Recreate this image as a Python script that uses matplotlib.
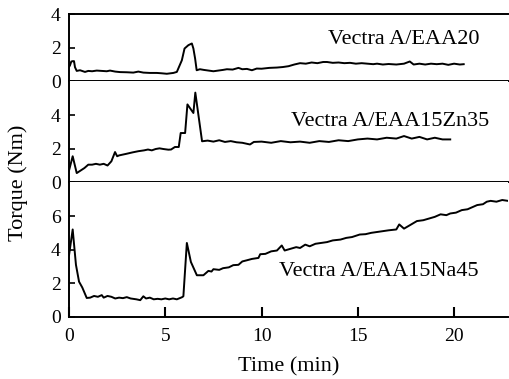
import numpy as np
import matplotlib
matplotlib.use("Agg")
import matplotlib.pyplot as plt

plt.rcParams['font.family'] = ['Liberation Serif', 'DejaVu Serif']

# torque curves (time in min, torque in Nm)
t_eaa20 = [0, 0.05, 0.12, 0.2, 0.26, 0.31, 0.4, 0.57, 0.83, 1.0, 1.2, 1.44, 1.7, 1.96, 2.13,
           2.4, 2.65, 3.0, 3.34, 3.6, 3.86, 4.2, 4.56, 4.8, 5.08, 5.42, 5.6, 5.86, 6.0, 6.2,
           6.38, 6.46, 6.55, 6.63, 6.8, 7.0, 7.5, 8.0, 8.2, 8.5, 8.8, 9.0, 9.24, 9.5, 9.75,
           10.0, 10.4, 10.8, 11.1, 11.4, 11.7, 12.0, 12.3, 12.6, 12.9, 13.2, 13.4, 13.7, 14.0,
           14.3, 14.6, 14.9, 15.2, 15.5, 15.8, 16.0, 16.3, 16.6, 17.0, 17.4, 17.7, 17.9, 18.2,
           18.5, 18.8, 19.1, 19.4, 19.7, 20.0, 20.3, 20.5]
v_eaa20 = [0.85, 0.95, 1.18, 1.2, 1.2, 0.84, 0.62, 0.66, 0.56, 0.62, 0.6, 0.64, 0.62, 0.6, 0.64,
           0.58, 0.55, 0.54, 0.52, 0.58, 0.52, 0.5, 0.5, 0.48, 0.45, 0.5, 0.56, 1.25, 1.95, 2.15,
           2.25, 1.95, 1.35, 0.66, 0.72, 0.68, 0.6, 0.68, 0.72, 0.7, 0.8, 0.72, 0.74, 0.66, 0.76,
           0.75, 0.8, 0.82, 0.85, 0.9, 1.0, 1.08, 1.05, 1.12, 1.08, 1.15, 1.15, 1.1, 1.12,
           1.08, 1.1, 1.05, 1.08, 1.05, 1.02, 1.05, 1.0, 1.03, 1.0, 1.05, 1.18, 1.0, 1.05,
           1.0, 1.05, 1.02, 1.05, 0.98, 1.05, 1.0, 1.02]

t_zn35 = [0, 0.19, 0.4, 0.6, 0.8, 1.0, 1.2, 1.4, 1.6, 1.8, 2.0, 2.2, 2.39, 2.5, 2.6, 2.8,
          3.0, 3.3, 3.6, 3.9, 4.1, 4.3, 4.5, 4.7, 4.9, 5.16, 5.3, 5.5, 5.7, 5.8, 6.03, 6.15,
          6.46, 6.56, 6.91, 7.2, 7.5, 7.8, 8.1, 8.4, 8.7, 9.0, 9.4, 9.6, 10.0, 10.5, 11.0,
          11.5, 12.0, 12.5, 13.0, 13.5, 14.0, 14.5, 15.0, 15.5, 16.0, 16.5, 17.0, 17.4, 17.8,
          18.2, 18.6, 19.0, 19.4, 19.8]
v_zn35 = [0.7, 1.55, 0.55, 0.7, 0.85, 1.05, 1.05, 1.1, 1.05, 1.1, 1.0, 1.25, 1.8, 1.55, 1.6, 1.65,
          1.7, 1.78, 1.85, 1.9, 1.95, 1.9, 1.98, 2.02, 1.98, 1.94, 1.95, 2.1, 2.1, 2.93, 2.93, 4.63,
          4.12, 5.33, 2.44, 2.48, 2.42, 2.5, 2.4, 2.45, 2.38, 2.35, 2.25, 2.4, 2.42, 2.35, 2.45,
          2.38, 2.42, 2.35, 2.45, 2.4, 2.5, 2.45, 2.55, 2.6, 2.55, 2.65, 2.6, 2.75, 2.6,
          2.7, 2.55, 2.65, 2.55, 2.55]

t_na45 = [0, 0.19, 0.36, 0.52, 0.69, 0.92, 1.1, 1.3, 1.5, 1.7, 1.8, 2.0, 2.2, 2.4, 2.6, 2.8,
          3.0, 3.2, 3.5, 3.7, 3.86, 4.0, 4.2, 4.4, 4.6, 4.8, 5.0, 5.2, 5.4, 5.6, 5.86, 5.94,
          6.12, 6.33, 6.64, 6.98, 7.1, 7.24, 7.4, 7.5, 7.8, 8.0, 8.3, 8.53, 8.8, 9.0, 9.24,
          9.5, 9.84, 9.93, 10.2, 10.5, 10.8, 11.05, 11.2, 11.5, 11.8, 12.0, 12.27, 12.5, 12.8,
          13.1, 13.4, 13.7, 14.1, 14.4, 14.7, 15.1, 15.4, 15.7, 16.0, 16.3, 16.6, 17.0, 17.15,
          17.4, 17.7, 18.07, 18.4, 18.7, 19.0, 19.3, 19.6, 19.8, 20.1, 20.4, 20.7, 21.0, 21.2,
          21.5, 21.7, 21.9, 22.2, 22.5, 22.8]
v_na45 = [3.67, 5.2, 3.1, 2.1, 1.75, 1.13, 1.15, 1.25, 1.2, 1.3, 1.15, 1.25, 1.2, 1.1, 1.15, 1.12,
          1.18, 1.1, 1.05, 1.0, 1.23, 1.1, 1.15, 1.05, 1.08, 1.05, 1.1, 1.05, 1.1, 1.05, 1.17, 1.23,
          4.4, 3.27, 2.48, 2.48, 2.6, 2.74, 2.7, 2.84, 2.8, 2.9, 2.95, 3.08, 3.1, 3.3, 3.37,
          3.45, 3.51, 3.73, 3.75, 3.9, 3.95, 4.25, 3.95, 4.05, 4.15, 4.1, 4.3, 4.2, 4.35,
          4.4, 4.45, 4.55, 4.6, 4.7, 4.75, 4.9, 4.92, 5.0, 5.05, 5.1, 5.15, 5.2, 5.5,
          5.25, 5.45, 5.7, 5.75, 5.85, 5.95, 6.1, 6.05, 6.15, 6.2, 6.35, 6.4, 6.55, 6.65,
          6.7, 6.85, 6.9, 6.85, 6.95, 6.9]

labels = ['Vectra A/EAA20', 'Vectra A/EAA15Zn35', 'Vectra A/EAA15Na45']
label_pos = [(17.4, 2.5), (16.7, 3.62), (16.1, 2.7)]
ylims = [4, 6, 8]
yticks = [[0, 2, 4], [0, 2, 4], [0, 2, 4, 6]]
series = [(t_eaa20, v_eaa20), (t_zn35, v_zn35), (t_na45, v_na45)]

fig = plt.figure(figsize=(5.09, 3.79), dpi=100)
gs = fig.add_gridspec(3, 1, height_ratios=ylims, hspace=0,
                      left=0.1356, right=0.998, top=0.963, bottom=0.1636)

for i in range(3):
    ax = fig.add_subplot(gs[i])
    t, v = series[i]
    ax.plot(t, v, color='black', lw=1.4)
    ax.set_xlim(0, 22.8)
    ax.set_ylim(0, ylims[i])
    ax.set_yticks(yticks[i])
    ax.tick_params(axis='y', direction='in', length=4, width=1.2, labelsize=14, pad=6)
    ax.spines['right'].set_visible(False)
    for s in ['left', 'bottom', 'top']:
        ax.spines[s].set_linewidth(1.4)
    if i > 0:
        ax.spines['top'].set_visible(False)
    if i < 2:
        ax.tick_params(axis='x', bottom=False, labelbottom=False)
    else:
        ax.set_xticks([0, 5, 10, 15, 20])
        ax.tick_params(axis='x', direction='in', length=7, width=1.5, labelsize=14, pad=8)
        ax.set_xlabel('Time (min)', fontsize=16, labelpad=9)
    ax.text(label_pos[i][0], label_pos[i][1], labels[i], fontsize=16,
            ha='center', va='center')

fig.text(0.036, 0.517, 'Torque (Nm)', rotation=90, fontsize=16, ha='center', va='center')

fig.savefig('out.png', dpi=100)
